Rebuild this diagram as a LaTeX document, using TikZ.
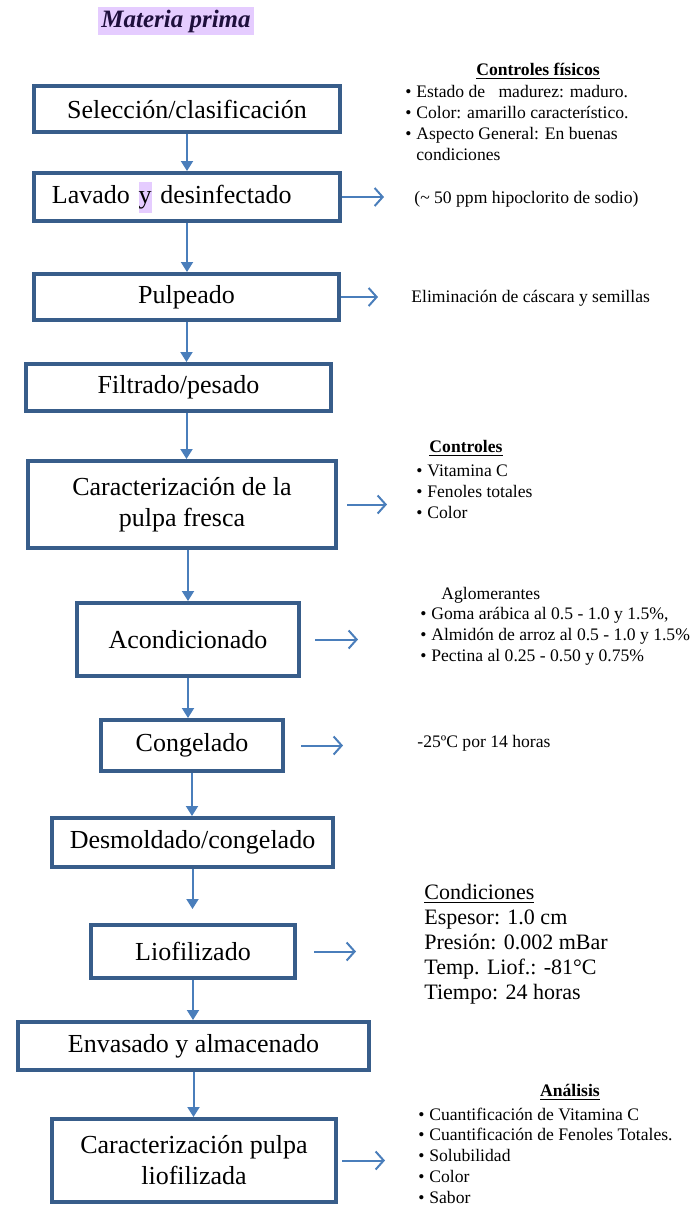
\documentclass[tikz,border=0pt]{standalone}
\usepackage{fontspec}
\setmainfont{Liberation Serif}
\usetikzlibrary{positioning,arrows.meta}
\definecolor{borde}{HTML}{385D8A}
\definecolor{flecha}{HTML}{4A7EBB}
\definecolor{resalte}{HTML}{E5CCFF}
\definecolor{titulo}{HTML}{1E0F3C}
\newcommand{\bul}{\makebox[5.5pt][l]{\textbullet}}
\begin{document}
\begin{tikzpicture}[x=0.5pt,y=-0.5pt]
\tikzstyle{etapa} = [draw=borde,line width=2pt,fill=white,font=\fontsize{13}{15.5}\selectfont,align=center,inner sep=0pt]
\tikzstyle{baja} = [flecha,line width=1pt,-{Triangle[width=6pt,length=5pt]}]
\tikzstyle{lado} = [flecha,line width=1pt,-{Straight Barb[width=9pt,length=4pt]}]
\tikzstyle{nota} = [anchor=west,align=left,inner sep=0pt,font=\fontsize{8.8}{10.4}\selectfont]

\useasboundingbox (0,0) rectangle (692,1207);

\node[fill=resalte,text=titulo,font=\fontsize{12.5}{15}\bfseries\itshape\selectfont,minimum width=78pt,minimum height=14pt,inner sep=0pt] (mp) at (176,21) {Materia prima};

\node[etapa,minimum width=153pt,minimum height=23pt] (e1) at (187,109) {Selección/clasificación};
\node[etapa,text width=135pt,inner xsep=9pt,minimum height=24pt,align=left] (e2) at (187,197) {Lavado {\setlength{\fboxsep}{0pt}\colorbox{resalte}{\strut y}} desinfectado};
\node[etapa,minimum width=152.5pt,minimum height=23pt] (e3) at (186.5,297) {Pulpeado};
\node[etapa,minimum width=152.5pt,minimum height=23.5pt] (e4) at (178.5,387.5) {Filtrado/pesado};
\node[etapa,minimum width=154pt,minimum height=43.5pt] (e5) at (182,504.5) {Caracterización de la\\pulpa fresca};
\node[etapa,minimum width=111pt,minimum height=36.5pt] (e6) at (188,639.5) {Acondicionado};
\node[etapa,minimum width=91pt,minimum height=25.5pt] (e7) at (192,745.5) {Congelado};
\node[etapa,minimum width=140.5pt,minimum height=24.5pt] (e8) at (192.5,842.5) {Desmoldado/congelado};
\node[etapa,minimum width=102pt,minimum height=26.5pt] (e9) at (193,951.5) {Liofilizado};
\node[etapa,minimum width=175.5pt,minimum height=24pt] (e10) at (193.5,1046) {Envasado y almacenado};
\node[etapa,minimum width=142pt,minimum height=41.5pt] (e11) at (194,1160.5) {Caracterización pulpa\\liofilizada};

\path (e1) edge[baja] (e1 |- e2.north);
\path (e2) edge[baja] (e2 |- e3.north);
\path (e3) edge[baja] (e3 |- e4.north);
\path (e4.south -| e3) edge[baja] (e3 |- e5.north);
\path (e5.south -| e6) edge[baja] (e6.north);
\path (e6) edge[baja] (e6 |- e7.north);
\path (e7) edge[baja] (e7 |- e8.north);
\path (e8) edge[baja,shorten >=7pt] (e8 |- e9.north);
\path (e9) edge[baja] (e9 |- e10.north);
\path (e10) edge[baja] (e10 |- e11.north);

\coordinate[right=21pt of e2.east] (a2);
\coordinate[right=18.5pt of e3.east] (a3);
\coordinate[right=24.5pt of e5.east] (a5);
\coordinate[right=28.5pt of e6.east] (a6);
\coordinate[right=29pt of e7.east] (a7);
\coordinate[right=29.5pt of e9.east] (a9);
\coordinate[right=23.5pt of e11.east] (a11);
\path (e2) edge[lado] (a2);
\path (e3) edge[lado] (a3);
\path (e5) edge[lado,shorten <=4.5pt] (a5);
\path (e6) edge[lado,shorten <=7pt] (a6);
\path (e7) edge[lado,shorten <=8pt] (a7);
\path (e9) edge[lado,shorten <=8.5pt] (a9);
\path (e11) edge[lado,shorten <=2pt] (a11);

\node[nota,anchor=center] (n1) at (538,71) {\underline{\textbf{Controles físicos}}};
\node[nota] (n2) at (405,123) {\bul Estado de\ \ \ madurez: maduro.\\\bul Color: amarillo característico.\\\bul Aspecto General: En buenas\\\hspace*{5.5pt}condiciones};
\node[nota] (n3) at (414,199) {(\textasciitilde\ 50 ppm hipoclorito de sodio)};
\node[nota] (n4) at (411,298) {Eliminación de cáscara y semillas};
\node[nota,anchor=center] (n5) at (466,448) {\underline{\textbf{Controles}}};
\node[nota] (n6) at (416,491.5) {\bul Vitamina C\\\bul Fenoles totales\\\bul Color};
\node[nota] (n7) at (441,595) {Aglomerantes};
\node[nota] (n8) at (420,636.5) {\bul Goma arábica al 0.5 - 1.0 y 1.5\%,\\\bul Almidón de arroz al 0.5 - 1.0 y 1.5\%\\\bul Pectina al 0.25 - 0.50 y 0.75\%};
\node[nota] (n9) at (417,743) {-25ºC por 14 horas};
\node[nota,font=\fontsize{11}{12.5}\selectfont] (n10) at (424,944) {\underline{Condiciones}\\Espesor: 1.0 cm\\Presión: 0.002 mBar\\Temp. Liof.: -81°C\\Tiempo: 24 horas};
\node[nota,anchor=center] (n11) at (570,1092) {\underline{\textbf{Análisis}}};
\node[nota] (n12) at (418,1155.5) {\bul Cuantificación de Vitamina C\\\bul Cuantificación de Fenoles Totales.\\\bul Solubilidad\\\bul Color\\\bul Sabor};
\end{tikzpicture}
\end{document}
